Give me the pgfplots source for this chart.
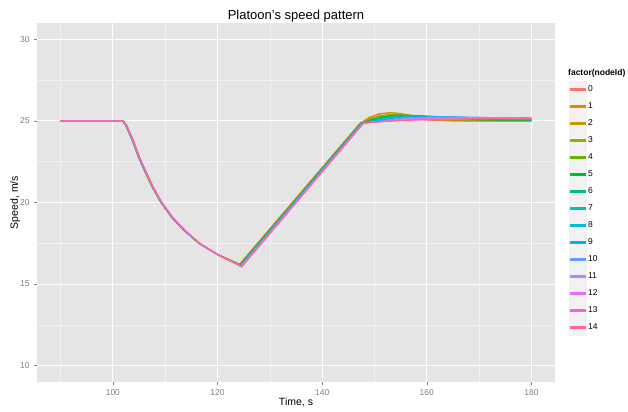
\documentclass[border=0pt]{standalone}
\usepackage{fontspec}
\setmainfont{Liberation Sans}
\usepackage{pgfplots}
\pgfplotsset{compat=1.18}

\definecolor{grey90}{HTML}{E5E5E5}
\definecolor{grey95}{HTML}{F2F2F2}
\definecolor{grey50}{HTML}{7F7F7F}
\definecolor{c0}{HTML}{F8766D}
\definecolor{c1}{HTML}{E58700}
\definecolor{c2}{HTML}{C99800}
\definecolor{c3}{HTML}{A3A500}
\definecolor{c4}{HTML}{6BB100}
\definecolor{c5}{HTML}{00BA38}
\definecolor{c6}{HTML}{00BF7D}
\definecolor{c7}{HTML}{00C0AF}
\definecolor{c8}{HTML}{00BCD8}
\definecolor{c9}{HTML}{00B0F6}
\definecolor{c10}{HTML}{619CFF}
\definecolor{c11}{HTML}{B983FF}
\definecolor{c12}{HTML}{E76BF3}
\definecolor{c13}{HTML}{FD61D1}
\definecolor{c14}{HTML}{FF67A4}

\begin{document}
\begin{tikzpicture}
\useasboundingbox (0,0) rectangle (628bp,412bp);
\begin{axis}[
  at={(37bp,30bp)}, anchor=south west,
  width=518bp, height=359bp, scale only axis,
  xmin=85.5, xmax=184.5,
  ymin=9, ymax=31,
  xtick={100,120,140,160,180},
  ytick={10,15,20,25,30},
  minor xtick={90,110,130,150,170},
  minor ytick={12.5,17.5,22.5,27.5},
  xmajorgrids, ymajorgrids, xminorgrids, yminorgrids,
  major grid style={white, line width=1.1bp},
  minor grid style={grey95, line width=0.55bp},
  axis background/.style={fill=grey90},
  axis line style={draw=none},
  tick pos=left, tick align=outside,
  major tick length=2.7bp, minor tick length=0pt,
  tick style={grey50, line width=0.5bp},
  /pgf/number format/assume math mode=true,
  ticklabel style={font=\fontsize{8.5bp}{10bp}\selectfont, text=grey50, inner sep=0pt},
  xticklabel style={anchor=north, yshift=-5bp},
  yticklabel style={anchor=east, xshift=-4.4bp},
  title={Platoon's speed pattern},
  every axis title/.style={at={(axis description cs:0.5,1)}, anchor=base, yshift=3.7bp, font=\fontsize{13bp}{15bp}\selectfont},
  xlabel={Time, s},
  ylabel={Speed, m/s},
  every axis x label/.style={at={(axis description cs:0.5,-0.066)}, anchor=base, font=\fontsize{10.5bp}{12bp}\selectfont},
  every axis y label/.style={at={(axis description cs:-0.0367,0.5)}, rotate=90, anchor=base, font=\fontsize{10.5bp}{12bp}\selectfont},
  every axis plot/.append style={line width=1.07bp},
  legend cell align=left,
  legend image code/.code={
    \fill[white] (0bp,-7.965bp) rectangle (17bp,7.965bp);
    \fill[grey95] (0.5bp,-7.5bp) rectangle (16.5bp,7.5bp);
    \fill[#1] (1.5bp,-0.7bp) rectangle (15.5bp,0.7bp);
  },
  legend style={draw=none, fill=none, inner sep=0pt, outer sep=0pt,
    at={(axis description cs:1.027,0.83844)}, anchor=north west,
    row sep=0pt, column sep=1bp,
    font=\fontsize{8.5bp}{10bp}\selectfont,
    nodes={inner sep=0pt}},
]
\addplot[c0] table {
90 25.00
101.79 25.00
102.43 24.74
103.69 23.82
104.99 22.70
106.29 21.78
107.49 20.96
109.09 20.04
111.39 19.02
113.89 18.20
116.49 17.48
119.94 16.83
122.79 16.43
124.20 16.22
147.20 24.85
149 25.10
151 25.25
153 25.28
155 25.22
158 25.10
161 25.03
165 25.00
170 25.00
175 25.00
180 25.00
};
\addlegendentry{0}
\addplot[c1] table {
90 25.00
101.80 25.00
102.44 24.74
103.70 23.82
105.00 22.70
106.30 21.78
107.50 20.96
109.10 20.04
111.40 19.02
113.90 18.20
116.50 17.48
119.95 16.83
122.80 16.42
124.23 16.21
147.25 24.85
149 25.22
151 25.45
153 25.50
155 25.42
158 25.22
161 25.06
165 25.01
170 25.00
175 25.00
180 25.00
};
\addlegendentry{1}
\addplot[c2] table {
90 25.00
101.82 25.00
102.46 24.74
103.72 23.82
105.02 22.70
106.32 21.78
107.52 20.96
109.12 20.04
111.42 19.02
113.92 18.20
116.52 17.48
119.97 16.82
122.82 16.41
124.26 16.20
147.30 24.85
149 25.18
151 25.42
153 25.50
155 25.46
158 25.28
161 25.10
165 25.02
170 25.00
175 25.00
180 25.00
};
\addlegendentry{2}
\addplot[c3] table {
90 25.00
101.83 25.00
102.47 24.74
103.73 23.82
105.03 22.70
106.33 21.78
107.53 20.96
109.13 20.04
111.43 19.02
113.93 18.20
116.53 17.48
119.98 16.82
122.83 16.40
124.29 16.18
147.35 24.85
149 25.10
151 25.32
153 25.40
155 25.40
158 25.31
161 25.18
165 25.06
170 25.01
175 25.00
180 25.00
};
\addlegendentry{3}
\addplot[c4] table {
90 25.00
101.85 25.00
102.49 24.74
103.75 23.82
105.05 22.70
106.35 21.78
107.55 20.96
109.15 20.04
111.45 19.02
113.95 18.20
116.55 17.48
120.00 16.81
122.85 16.39
124.32 16.17
147.40 24.85
149 25.05
151 25.26
153 25.34
155 25.36
158 25.33
161 25.24
165 25.12
170 25.04
175 25.02
180 25.03
};
\addlegendentry{4}
\addplot[c5] table {
90 25.00
101.86 25.00
102.50 24.74
103.76 23.82
105.06 22.70
106.36 21.78
107.56 20.96
109.16 20.04
111.46 19.02
113.96 18.20
116.56 17.48
120.01 16.81
122.86 16.38
124.35 16.16
147.45 24.85
149 25.02
151 25.20
153 25.30
155 25.33
158 25.32
161 25.27
165 25.17
170 25.08
175 25.05
180 25.05
};
\addlegendentry{5}
\addplot[c6] table {
90 25.00
101.88 25.00
102.52 24.74
103.78 23.82
105.08 22.70
106.38 21.78
107.58 20.96
109.18 20.04
111.48 19.02
113.98 18.20
116.58 17.48
120.03 16.81
122.88 16.37
124.38 16.15
147.50 24.85
149 25.00
151 25.16
153 25.26
155 25.30
158 25.30
161 25.27
165 25.21
170 25.12
175 25.08
180 25.07
};
\addlegendentry{6}
\addplot[c7] table {
90 25.00
101.89 25.00
102.53 24.74
103.79 23.82
105.09 22.70
106.39 21.78
107.59 20.96
109.19 20.04
111.49 19.02
113.99 18.20
116.59 17.48
120.04 16.80
122.89 16.37
124.41 16.14
147.55 24.85
149 24.97
151 25.12
153 25.23
155 25.28
158 25.29
161 25.28
165 25.23
170 25.16
175 25.11
180 25.09
};
\addlegendentry{7}
\addplot[c8] table {
90 25.00
101.91 25.00
102.55 24.74
103.81 23.82
105.11 22.70
106.41 21.78
107.61 20.96
109.21 20.04
111.51 19.02
114.01 18.20
116.61 17.48
120.06 16.80
122.91 16.36
124.44 16.12
147.60 24.85
149 24.95
151 25.07
153 25.19
155 25.25
158 25.28
161 25.27
165 25.24
170 25.19
175 25.14
180 25.11
};
\addlegendentry{8}
\addplot[c9] table {
90 25.00
101.92 25.00
102.56 24.74
103.82 23.82
105.12 22.70
106.42 21.78
107.62 20.96
109.22 20.04
111.52 19.02
114.02 18.20
116.62 17.48
120.07 16.80
122.92 16.35
124.47 16.11
147.65 24.85
149 24.93
151 25.02
153 25.14
155 25.21
158 25.25
161 25.26
165 25.24
170 25.21
175 25.16
180 25.13
};
\addlegendentry{9}
\addplot[c10] table {
90 25.00
101.94 25.00
102.58 24.74
103.84 23.82
105.14 22.70
106.44 21.78
107.64 20.96
109.24 20.04
111.54 19.02
114.04 18.20
116.64 17.48
120.09 16.79
122.94 16.35
124.50 16.10
147.70 24.85
149 24.91
151 24.98
153 25.08
155 25.16
158 25.21
161 25.23
165 25.23
170 25.21
175 25.18
180 25.16
};
\addlegendentry{10}
\addplot[c11] table {
90 25.00
101.95 25.00
102.59 24.74
103.85 23.82
105.15 22.70
106.45 21.78
107.65 20.96
109.25 20.04
111.55 19.02
114.05 18.20
116.65 17.48
120.10 16.79
122.95 16.34
124.53 16.09
147.75 24.85
149 24.90
151 24.94
153 25.03
155 25.10
158 25.16
161 25.20
165 25.21
170 25.21
175 25.20
180 25.19
};
\addlegendentry{11}
\addplot[c12] table {
90 25.00
101.97 25.00
102.61 24.74
103.87 23.82
105.17 22.70
106.47 21.78
107.67 20.96
109.27 20.04
111.57 19.02
114.07 18.20
116.67 17.48
120.12 16.79
122.97 16.34
124.56 16.08
147.80 24.85
149 24.90
151 24.94
153 25.00
155 25.05
158 25.10
161 25.14
165 25.17
170 25.18
175 25.18
180 25.18
};
\addlegendentry{12}
\addplot[c13] table {
90 25.00
101.98 25.00
102.62 24.74
103.88 23.82
105.18 22.70
106.48 21.78
107.68 20.96
109.28 20.04
111.58 19.02
114.08 18.20
116.68 17.48
120.13 16.78
122.98 16.33
124.59 16.06
147.85 24.85
149 24.90
151 24.95
153 24.99
155 25.03
158 25.07
161 25.10
165 25.13
170 25.15
175 25.16
180 25.16
};
\addlegendentry{13}
\addplot[c14] table {
90 25.00
102.00 25.00
102.64 24.74
103.90 23.82
105.20 22.70
106.50 21.78
107.70 20.96
109.30 20.04
111.60 19.02
114.10 18.20
116.70 17.48
120.15 16.78
123.00 16.33
124.62 16.05
147.90 24.85
149 24.90
151 24.96
153 25.00
155 25.02
158 25.05
161 25.08
165 25.10
170 25.13
175 25.14
180 25.15
};
\addlegendentry{14}
\end{axis}
\node[anchor=base west, inner sep=0pt, font=\fontsize{8.5bp}{10bp}\selectfont\bfseries] at (568bp,336bp) {factor(nodeId)};
\end{tikzpicture}
\end{document}
